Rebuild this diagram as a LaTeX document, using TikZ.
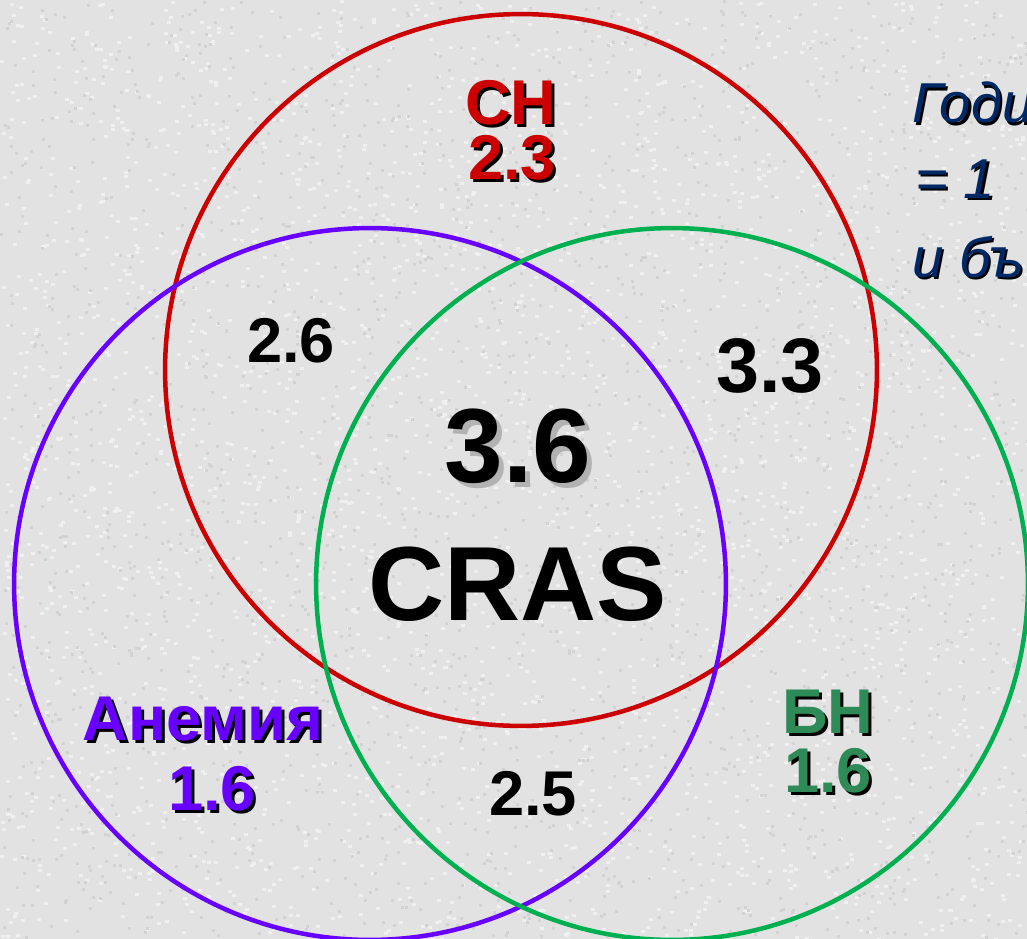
\documentclass[tikz,border=0pt]{standalone}
\usepackage{fontspec}
\setmainfont{Liberation Sans}
\usepackage{tikz}
\usetikzlibrary{positioning}

\definecolor{paper}{RGB}{226,226,226}
\definecolor{speckhi}{RGB}{240,240,240}
\definecolor{specklo}{RGB}{210,210,210}
\definecolor{chred}{RGB}{204,0,0}
\definecolor{anviolet}{RGB}{104,0,255}
\definecolor{bnline}{RGB}{0,176,80}
\definecolor{bntext}{RGB}{46,139,87}
\definecolor{notenavy}{RGB}{0,40,100}

% text with a drop shadow: #1 shadow colour, #2 offset, #3 text
\newcommand{\dropsh}[3]{%
  \makebox[0pt][l]{\hspace*{#2}\raisebox{-#2}{\color{#1}#3}}#3}

\begin{document}
\begin{tikzpicture}[
  x=0.02cm, y=-0.02cm,
  ring/.style={line width=0.09cm},
  lbl/.style={font=\fontsize{36}{36}\selectfont\bfseries, anchor=base, inner sep=0pt},
  mid/.style={font=\fontsize{36}{36}\selectfont\bfseries, anchor=base, inner sep=0pt},
  big/.style={font=\fontsize{60}{60}\selectfont\bfseries, anchor=base, inner sep=0pt},
  note/.style={font=\fontsize{32}{32}\selectfont\itshape, text=notenavy,
    anchor=base west, inner sep=0pt},
]
  % background with a speckled grain
  \fill[paper] (0,0) rectangle (1027,939);
  \clip (0,0) rectangle (1027,939);
  \pgfmathsetseed{11}
  \foreach \k in {1,...,3000}{
    \pgfmathsetmacro{\px}{rnd*1027}
    \pgfmathsetmacro{\py}{rnd*939}
    \fill[speckhi] (\px,\py) rectangle ++(4,3);
  }
  \foreach \k in {1,...,2200}{
    \pgfmathsetmacro{\px}{rnd*1027}
    \pgfmathsetmacro{\py}{rnd*939}
    \fill[specklo] (\px,\py) rectangle ++(3,3);
  }

  % circle centres
  \coordinate (chc) at (521,370);
  \coordinate (anc) at (370,584);
  \coordinate (bnc) at (672,584);

  \draw[ring, chred] (chc) circle[radius=7.12cm];
  \draw[ring, anviolet] (anc) circle[radius=7.12cm];
  \draw[ring, bnline] (bnc) circle[radius=7.12cm];

  % set labels
  \node[lbl, text=chred] (ch) at (511,125) {\dropsh{black}{0.06cm}{СН}};
  \node[lbl, text=chred] (chval) at (512,180) {\dropsh{black}{0.06cm}{2.3}};
  \node[lbl, text=anviolet] (an) at (203,740) {\dropsh{black}{0.06cm}{Анемия}};
  \node[lbl, text=anviolet] (anval) at (212,810) {\dropsh{black}{0.06cm}{1.6}};
  \node[lbl, text=bntext] (bn) at (828,733) {\dropsh{black}{0.06cm}{БН}};
  \node[lbl, text=bntext] (bnval) at (828,792) {\dropsh{black}{0.06cm}{1.6}};

  % overlaps
  \node[mid] (chan) at (291,362) {2.6};
  \node[mid, font=\fontsize{44}{44}\selectfont\bfseries] (chbn) at (770,392) {3.3};
  \node[mid] (anbn) at (533,815) {2.5};

  % centre
  \node[big] (allval) at (518,482) {\dropsh{black!30}{0.1cm}{3.6}};
  \node[big] (cras) at (518,620) {CRAS};

  % note on the right
  \node[note] (note1) at (912,123) {\dropsh{black}{0.05cm}{Годи}};
  \node[note] (note2) at (915,198) {\dropsh{black}{0.05cm}{= 1}};
  \node[note] (note3) at (912,277) {\dropsh{black}{0.05cm}{и бъ}};
\end{tikzpicture}
\end{document}
